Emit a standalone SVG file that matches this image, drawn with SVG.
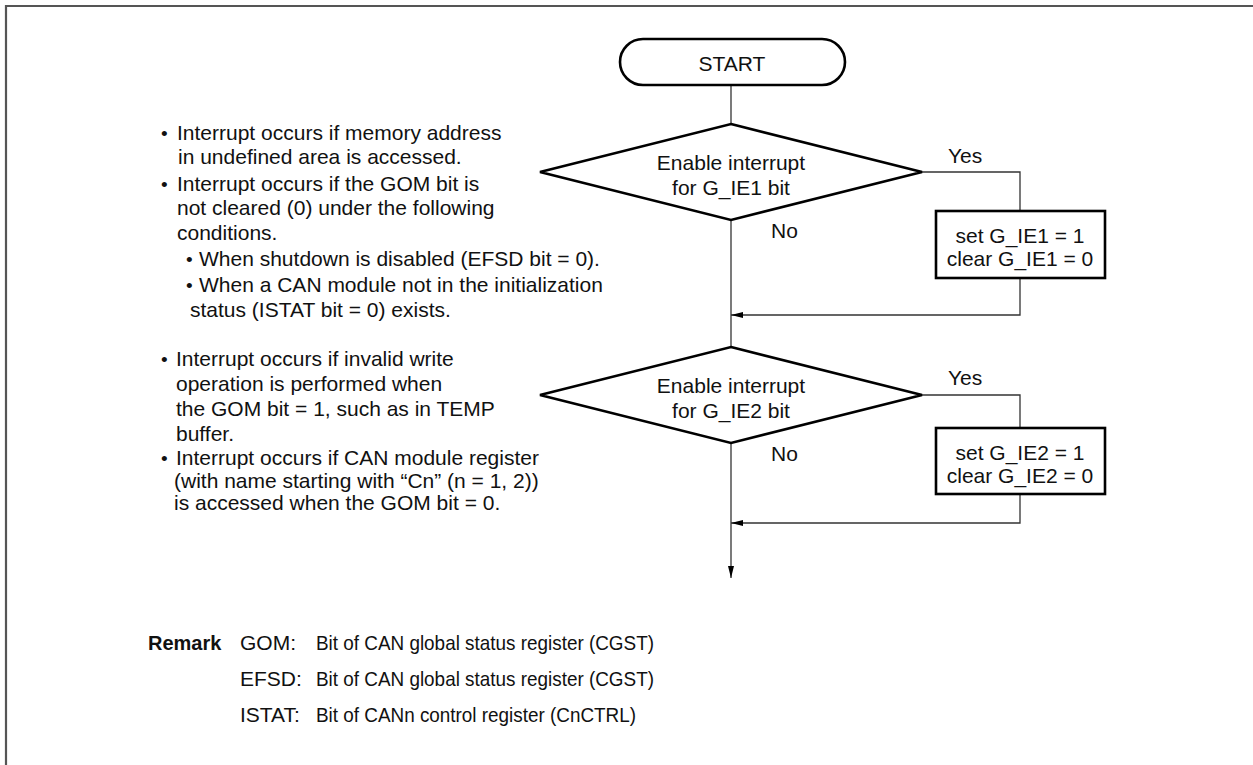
<svg xmlns="http://www.w3.org/2000/svg" width="1253" height="765" viewBox="0 0 1253 765">
<style>
text{font-family:"Liberation Sans",Arial,sans-serif;font-size:21px;fill:#111}
.c{text-anchor:middle}
.dot{font-size:19px}
.shape{fill:#fff;stroke:#000;stroke-width:2.6}
.conn{fill:none;stroke:#333;stroke-width:1.3}
.b{font-weight:bold;font-size:20px}
</style>
<defs>
<marker id="ah" viewBox="0 0 12 6" refX="12" refY="3" markerWidth="12" markerHeight="6" markerUnits="userSpaceOnUse" orient="auto">
<path d="M0,0 L12,3 L0,6 z" fill="#000"/>
</marker>
</defs>
<rect width="1253" height="765" fill="#fff"/>
<path d="M6,765 V6 H1253" fill="none" stroke="#555" stroke-width="2.2"/>
<g id="connectors">
<path class="conn" d="M731,85 V124"/>
<path class="conn" d="M731,220 V347"/>
<path class="conn" d="M922,172 H1020 V211"/>
<path class="conn" d="M1020,278 V315 H731" marker-end="url(#ah)"/>
<path class="conn" d="M922,395 H1020 V428"/>
<path class="conn" d="M1020,494 V523 H731" marker-end="url(#ah)"/>
<path class="conn" d="M731,443 V578" marker-end="url(#ah)"/>
</g>
<g id="start">
<rect class="shape" x="620" y="39" width="225" height="46" rx="23"/>
<text class="c" x="732" y="71">START</text>
</g>
<g id="decision1">
<polygon class="shape" points="731,124 922,172 731,220 540,172"/>
<text class="c" x="731" y="170">Enable interrupt</text>
<text class="c" x="731" y="195">for G_IE1 bit</text>
<text x="948" y="163">Yes</text>
<text x="771" y="238">No</text>
</g>
<g id="process1">
<rect class="shape" x="936" y="211" width="169" height="67"/>
<text class="c" x="1020" y="243">set G_IE1 = 1</text>
<text class="c" x="1020" y="266">clear G_IE1 = 0</text>
</g>
<g id="decision2">
<polygon class="shape" points="731,347 922,395 731,443 540,395"/>
<text class="c" x="731" y="393">Enable interrupt</text>
<text class="c" x="731" y="418">for G_IE2 bit</text>
<text x="948" y="385">Yes</text>
<text x="771" y="461">No</text>
</g>
<g id="process2">
<rect class="shape" x="936" y="428" width="169" height="66"/>
<text class="c" x="1020" y="460">set G_IE2 = 1</text>
<text class="c" x="1020" y="483">clear G_IE2 = 0</text>
</g>
<g id="notes1">
<text class="dot" x="161" y="140">•</text>
<text x="177" y="140">Interrupt occurs if memory address</text>
<text x="178" y="164">in undefined area is accessed.</text>
<text class="dot" x="161" y="191">•</text>
<text x="177" y="191">Interrupt occurs if the GOM bit is</text>
<text x="177" y="215">not cleared (0) under the following</text>
<text x="177" y="240">conditions.</text>
<text class="dot" x="186" y="266">•</text>
<text x="199" y="266">When shutdown is disabled (EFSD bit = 0).</text>
<text class="dot" x="186" y="292">•</text>
<text x="199" y="292">When a CAN module not in the initialization</text>
<text x="190" y="317">status (ISTAT bit = 0) exists.</text>
</g>
<g id="notes2">
<text class="dot" x="161" y="366">•</text>
<text x="176" y="366">Interrupt occurs if invalid write</text>
<text x="176" y="391">operation is performed when</text>
<text x="176" y="416">the GOM bit = 1, such as in TEMP</text>
<text x="176" y="441">buffer.</text>
<text class="dot" x="161" y="465">•</text>
<text x="176" y="465">Interrupt occurs if CAN module register</text>
<text x="174" y="488">(with name starting with “Cn” (n = 1, 2))</text>
<text x="174" y="510">is accessed when the GOM bit = 0.</text>
</g>
<g id="remark">
<text class="b" x="148" y="650">Remark</text>
<text x="240" y="650">GOM:</text>
<text x="316" y="650" textLength="338" lengthAdjust="spacingAndGlyphs">Bit of CAN global status register (CGST)</text>
<text x="240" y="686">EFSD:</text>
<text x="316" y="686" textLength="338" lengthAdjust="spacingAndGlyphs">Bit of CAN global status register (CGST)</text>
<text x="240" y="722">ISTAT:</text>
<text x="316" y="722" textLength="320" lengthAdjust="spacingAndGlyphs">Bit of CANn control register (CnCTRL)</text>
</g>
</svg>
